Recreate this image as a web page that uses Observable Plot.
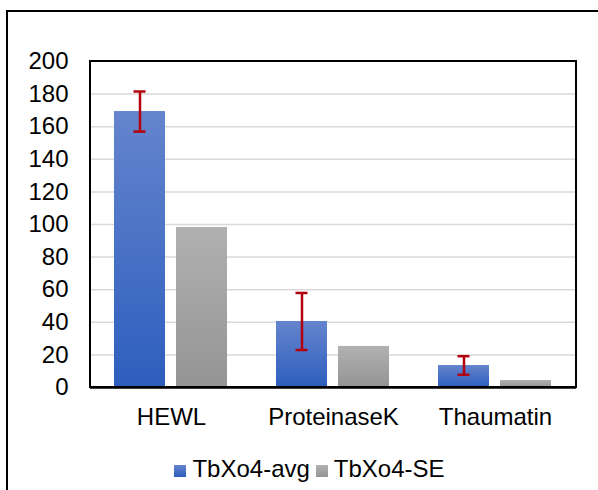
<!DOCTYPE html>
<html>
<head>
<meta charset="utf-8">
<script src="https://cdn.jsdelivr.net/npm/d3@7"></script>
<script src="https://cdn.jsdelivr.net/npm/@observablehq/plot@0.6"></script>
<style>
  html, body { margin: 0; padding: 0; width: 598px; height: 490px; overflow: hidden; background: #fff; }
  body { position: relative; font-family: "Liberation Sans", Arial, sans-serif; }
  #border { position: absolute; left: 6px; top: 10px; width: 700px; height: 600px; border: 2px solid #000; box-sizing: border-box; }
  #chart { position: absolute; left: 0; top: 0; }
  #legend { position: absolute; left: 0; top: 455px; width: 625px; text-align: center; font-size: 24px; color: #000; white-space: nowrap; }
  #legend span.item { display: inline-flex; align-items: center; margin: 0 6px 0 0; }
  #legend span.sw { display: inline-block; width: 12px; height: 12px; margin-right: 6px; margin-top: 4px; }
</style>
</head>
<body>
<div id="border"></div>
<div id="chart"></div>
<div id="legend"></div>
<script>
const categories = ["HEWL", "ProteinaseK", "Thaumatin"];
const seriesNames = ["TbXo4-avg", "TbXo4-SE"];
const avgValues = [169.3, 40.5, 13.5];
const seValues = [98.2, 25.2, 4.3];
const errValues = [12.3, 17.5, 5.7];
const yTicks = [0, 20, 40, 60, 80, 100, 120, 140, 160, 180, 200];

const rows = [];
categories.forEach((c, i) => {
  rows.push({cat: c, series: seriesNames[0], value: avgValues[i], err: errValues[i]});
  rows.push({cat: c, series: seriesNames[1], value: seValues[i], err: null});
});

const fills = {"TbXo4-avg": "url(#gBlue)", "TbXo4-SE": "url(#gGray)"};

const W = 598, H = 440, mL = 90, mR = 22, mT = 61, mB = 53;

const defs = () => {
  const d = d3.create("svg:defs");
  const gb = d.append("linearGradient").attr("id", "gBlue").attr("x1", 0).attr("y1", 0).attr("x2", 0).attr("y2", 1);
  gb.append("stop").attr("offset", "0%").attr("stop-color", "#6585cd");
  gb.append("stop").attr("offset", "100%").attr("stop-color", "#2d5ebe");
  const gg = d.append("linearGradient").attr("id", "gGray").attr("x1", 0).attr("y1", 0).attr("x2", 0).attr("y2", 1);
  gg.append("stop").attr("offset", "0%").attr("stop-color", "#b1b1b1");
  gg.append("stop").attr("offset", "100%").attr("stop-color", "#949494");
  return d.node();
};

const isAvg = d => d.series === seriesNames[0];

const plot = Plot.plot({
  width: W,
  height: H,
  marginLeft: mL,
  marginRight: mR,
  marginTop: mT,
  marginBottom: mB,
  style: {fontFamily: "'Liberation Sans', Arial, sans-serif", fontSize: "24px", color: "#000", background: "transparent"},
  facet: {data: rows, x: "cat"},
  fx: {domain: categories, paddingInner: 0, paddingOuter: 0, label: null, tickSize: 0, tickPadding: 20, axis: "bottom"},
  x: {domain: seriesNames, paddingInner: 0.177, paddingOuter: 0.39, axis: null},
  y: {domain: [0, 200], ticks: yTicks, tickSize: 0, tickPadding: 22, label: null, grid: false},
  marks: [
    defs,
    Plot.ruleY(yTicks.filter(t => t > 0 && t < 200), {stroke: "#d9d9d9", strokeWidth: 1.5}),
    Plot.barY(rows, {x: "series", y: "value", fill: d => fills[d.series]}),
    Plot.ruleX(rows, {filter: isAvg, x: "series", y1: d => d.value - d.err, y2: d => d.value + d.err, stroke: "#b3000c", strokeWidth: 2.5}),
    Plot.tickY(rows, {filter: isAvg, x: "series", y: d => d.value + d.err, stroke: "#b3000c", strokeWidth: 2.5, insetLeft: 19.5, insetRight: 19.5}),
    Plot.tickY(rows, {filter: isAvg, x: "series", y: d => d.value - d.err, stroke: "#b3000c", strokeWidth: 2.5, insetLeft: 19.5, insetRight: 19.5}),
    Plot.ruleY([0], {stroke: "#000", strokeWidth: 2.5})
  ]
});

// plot-area border
d3.select(plot).append("rect")
  .attr("x", mL).attr("y", mT)
  .attr("width", W - mL - mR).attr("height", H - mT - mB)
  .attr("fill", "none").attr("stroke", "#000").attr("stroke-width", 2);

document.getElementById("chart").appendChild(plot);

const legend = document.getElementById("legend");
const swatchColors = {"TbXo4-avg": "linear-gradient(#6585cd, #2d5ebe)", "TbXo4-SE": "linear-gradient(#b1b1b1, #949494)"};
seriesNames.forEach(s => {
  const item = document.createElement("span");
  item.className = "item";
  const sw = document.createElement("span");
  sw.className = "sw";
  sw.style.background = swatchColors[s];
  item.appendChild(sw);
  item.appendChild(document.createTextNode(s));
  legend.appendChild(item);
});
</script>
</body>
</html>
